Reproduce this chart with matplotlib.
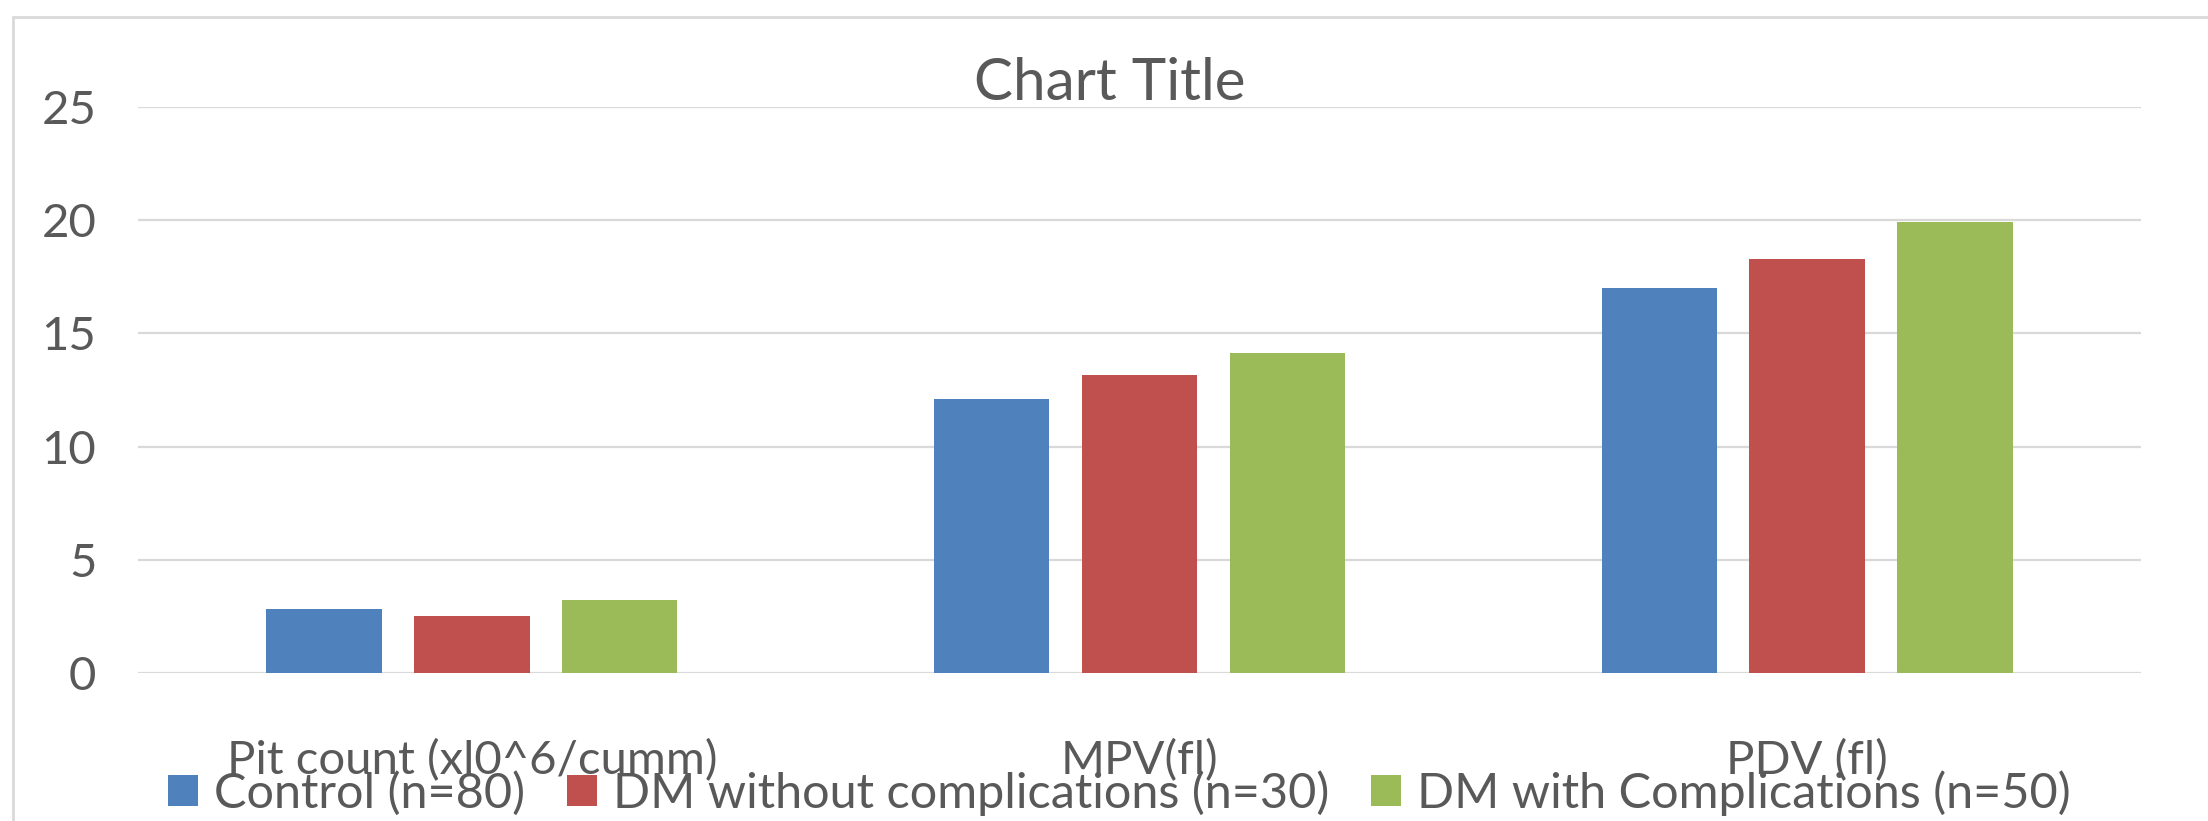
import numpy as np
import matplotlib
matplotlib.use("Agg")
import matplotlib.pyplot as plt
from matplotlib.patches import Rectangle

plt.rcParams['font.family'] = ['Lato', 'DejaVu Sans']

categories = ['Pit count (xl0^6/cumm)', 'MPV(fl)', 'PDV (fl)']
series_names = ['Control (n=80)', 'DM without complications (n=30)',
                'DM with Complications (n=50)']
control = [2.83, 12.1, 17.0]
dm_without = [2.52, 13.15, 18.3]
dm_with = [3.23, 14.15, 19.9]
yticks = [0, 5, 10, 15, 20, 25]

colors = ['#4F81BD', '#C0504D', '#9BBB59']
text_col = '#595959'
grid_col = '#D9D9D9'

W, H = 2208, 821
fig = plt.figure(figsize=(W / 100, H / 100), dpi=100)

# light chart-area border (right/bottom run off the canvas)
fig.patches.append(Rectangle((13 / W, -0.2), 1.2, 1.2 - 17 / H,
                             transform=fig.transFigure, fill=False,
                             edgecolor=grid_col, linewidth=2.0))

ax = fig.add_axes([138 / W, 1 - 673 / H, (2141 - 138) / W, (673 - 107) / H])

x = np.arange(len(categories))
width = 0.173
step = 0.2215
bars = []
for i, (vals, name) in enumerate(zip([control, dm_without, dm_with], series_names)):
    b = ax.bar(x + (i - 1) * step, vals, width, color=colors[i], label=name, zorder=3)
    bars.append(b)

ax.set_xlim(-0.5, len(categories) - 0.5)
ax.set_ylim(0, 25)
ax.set_yticks(yticks)
ax.set_xticks(x, categories, va='baseline')

ax.yaxis.grid(True, color=grid_col, linewidth=1.6, zorder=0)
ax.set_axisbelow(True)
for s in ax.spines.values():
    s.set_visible(False)

ax.tick_params(axis='y', length=0, pad=30, labelsize=34, labelcolor=text_col)
ax.tick_params(axis='x', length=0, pad=73, labelsize=34, labelcolor=text_col)

fig.text(1110 / W, 1 - 100 / H, 'Chart Title', ha='center', va='baseline',
         fontsize=42, color=text_col)

leg = fig.legend(handles=bars, labels=series_names, loc='center',
                 bbox_to_anchor=(1119.5 / W, 1 - 793 / H), ncol=3,
                 frameon=False, fontsize=35, handlelength=0.62, handleheight=0.62,
                 handletextpad=0.33, columnspacing=0.85, borderpad=0,
                 borderaxespad=0)
for t in leg.get_texts():
    t.set_color(text_col)

fig.savefig('out.png', dpi=100, facecolor='white')
